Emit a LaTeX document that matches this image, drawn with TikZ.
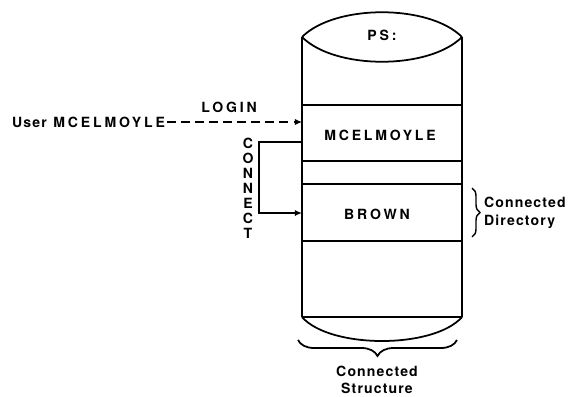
\documentclass[tikz,border=0pt]{standalone}
\usepackage{fontspec}
\usepackage{tikz}
\usetikzlibrary{positioning, arrows.meta, decorations.pathreplacing}

\newfontfamily\capsfont[LetterSpace=20]{TeX Gyre Heros}
\newfontfamily\wordfont[LetterSpace=8]{TeX Gyre Heros}

\begin{document}
\begin{tikzpicture}[x=0.02cm, y=-0.02cm,
    wall/.style={line width=1pt},
    caps/.style={font=\capsfont\bfseries\fontsize{8}{8.5}\selectfont, inner sep=1pt},
    words/.style={font=\wordfont\bfseries\fontsize{8}{10}\selectfont, inner sep=1pt, align=left}]
    \useasboundingbox (0,0) rectangle (568,396);
    % cylinder
    \draw[wall] (302,37) .. controls (335,4) and (429,4) .. (462,37);
    \draw[wall] (302,37) .. controls (335,70) and (429,70) .. (462,37);
    \draw[wall] (302,37) -- (302,317);
    \draw[wall] (462,37) -- (462,317);
    \draw[wall] (302,317) -- (462,317);
    \draw[wall] (302,317) .. controls (330,349) and (434,349) .. (462,317);
    \foreach \y in {105, 161, 184, 241}
      \draw[wall] (302,\y) -- (462,\y);
    \node[caps] (ps) at (382,35) {PS:};
    \node[caps] (mcel) at (380,135) {MCELMOYLE};
    \node[caps] (brown) at (377,214) {BROWN};
    % login
    \node[caps, anchor=east] (user) at (167,122) {{\wordfont User} MCELMOYLE};
    \node[caps] (login) at (229,107) {LOGIN};
    \coordinate (loginend) at (302,122);
    \draw[line width=0.7pt, dash pattern=on 5pt off 3pt, -{Latex[length=4pt, width=3.5pt]}] (user) -- (loginend);
    % connect
    \node[caps, align=center] (connect) at (248,188) {C\\O\\N\\N\\E\\C\\T};
    \coordinate (conntop) at (302,142);
    \coordinate (connbot) at (302,213);
    \draw[line width=0.8pt, -{Latex[length=4pt, width=3.5pt]}] (conntop) -- ++(-43,0) |- (connbot);
    % braces
    \draw[line width=0.8pt, decorate, decoration={brace, amplitude=0.16cm}] (472,188) -- (472,237);
    \node[words, anchor=west] (conndir) at (482,213) {Connected\\Directory};
    \draw[line width=1pt, decorate, decoration={brace, amplitude=0.32cm}] (457,340) -- (298,340);
    \node[words, align=center] (connstruct) at (377,380) {Connected\\Structure};
\end{tikzpicture}
\end{document}
